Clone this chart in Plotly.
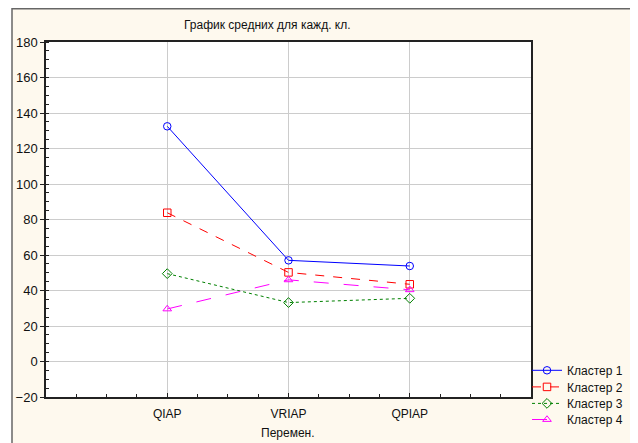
import plotly.graph_objects as go

categories = ["QIAP", "VRIAP", "QPIAP"]
series_names = ["Кластер 1", "Кластер 2", "Кластер 3", "Кластер 4"]
cluster1 = [132.5, 57.0, 53.8]
cluster2 = [83.8, 50.2, 43.5]
cluster3 = [49.5, 33.2, 35.6]
cluster4 = [29.6, 46.0, 40.4]
y_ticks = [-20, 0, 20, 40, 60, 80, 100, 120, 140, 160, 180]

values = [cluster1, cluster2, cluster3, cluster4]
colors = ["#0000FF", "#FF0000", "#008000", "#FF00FF"]
dashes = ["solid", "dash", "dot", "longdash"]
symbols = ["circle-open", "square-open", "diamond-open", "triangle-up-open"]
legend_ids = ["legend", "legend2", "legend3", "legend4"]

xpos = list(range(len(categories)))

# the page body adds an 8px offset; figure is sized to fit the window
OFF = 8
W, H = 638 - OFF, 443 - OFF
L, R, T, B = 38, 107, 34, 46
pw = W - L - R
ph = H - T - B

def px(page_x):
    return (page_x - OFF - L) / pw

def py(page_y):
    return (H - B - (page_y - OFF)) / ph

fig = go.Figure()
for name, vals, c, d, s, lg in zip(series_names, values, colors, dashes, symbols, legend_ids):
    fig.add_trace(go.Scatter(
        x=xpos, y=vals, name=name, mode="lines+markers", legend=lg,
        line=dict(color=c, width=1, dash=d),
        marker=dict(symbol=s, size=7.5, color=c, line=dict(color=c, width=1)),
    ))

CREAM = "#FEF9EE"
fig.add_shape(type="rect", xref="paper", yref="paper",
              x0=px(0), x1=px(12), y0=py(460), y1=py(0),
              fillcolor="white", line=dict(width=0), layer="below")
fig.add_shape(type="line", xref="paper", yref="paper",
              x0=px(12), x1=px(12), y0=py(8), y1=py(460),
              line=dict(color="#666666", width=1.5))
fig.add_shape(type="line", xref="paper", yref="paper",
              x0=px(12), x1=px(660), y0=py(8.7), y1=py(8.7),
              line=dict(color="#666666", width=1.5))

fig.add_annotation(text="График средних для кажд. кл.", xref="paper", yref="paper",
                   x=px(267), y=py(25), xanchor="center", yanchor="middle", showarrow=False,
                   font=dict(family="Liberation Sans, Arial", size=12, color="#111111"))
fig.add_annotation(text="Перемен.", xref="paper", yref="paper",
                   x=px(288), y=py(433), xanchor="center", yanchor="middle", showarrow=False,
                   font=dict(family="Liberation Sans, Arial", size=12, color="#111111"))

fig.update_xaxes(
    range=[-1, 3], tickvals=xpos, ticktext=categories,
    showgrid=True, gridcolor="#CCCCCC", gridwidth=1,
    showline=True, linecolor="#222222", linewidth=1.5, mirror=True,
    ticks="inside", ticklen=4, tickcolor="#222222", ticklabelstandoff=5,
    minor=dict(dtick=0.25, tick0=0, ticks="inside", ticklen=3, tickcolor="#222222", showgrid=False),
    zeroline=False, automargin=False,
    tickfont=dict(family="Liberation Sans, Arial", size=12, color="#111111"),
)
fig.update_yaxes(
    range=[-20, 180], tickvals=y_ticks,
    showgrid=True, gridcolor="#CCCCCC", gridwidth=1,
    showline=True, linecolor="#222222", linewidth=1.5, mirror=True,
    ticks="outside", ticklen=4, tickcolor="#222222",
    minor=dict(dtick=5, tick0=0, ticks="inside", ticklen=3, tickcolor="#222222", showgrid=False),
    zeroline=False, automargin=False,
    tickfont=dict(family="Liberation Sans, Arial", size=13, color="#111111"),
)

leg_font = dict(family="Liberation Sans, Arial", size=12, color="#111111")
legend_centers = [370.3, 386.9, 403.4, 419.5]
layout_legends = {}
for lg, yc in zip(legend_ids, legend_centers):
    layout_legends[lg] = dict(x=px(628), y=py(yc), xanchor="right", yanchor="middle",
                              bgcolor="rgba(0,0,0,0)", borderwidth=0, itemwidth=30,
                              font=leg_font)

fig.update_layout(
    width=W, height=H,
    margin=dict(l=L, r=R, t=T, b=B, pad=0, autoexpand=False),
    paper_bgcolor=CREAM, plot_bgcolor="white",
    showlegend=True,
    **layout_legends,
)

fig.write_html("out.html")
